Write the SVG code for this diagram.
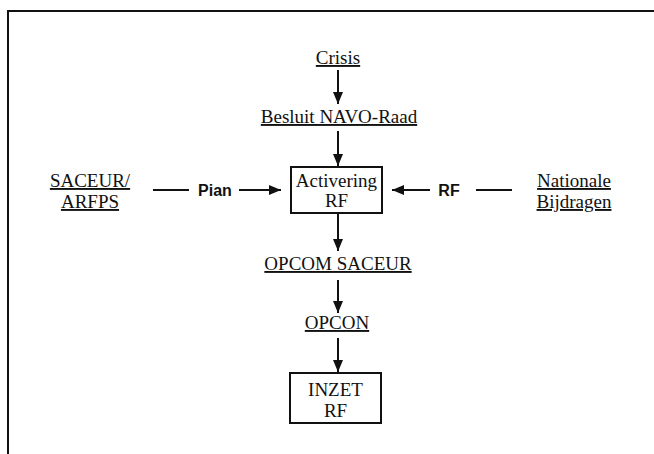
<svg xmlns="http://www.w3.org/2000/svg" width="654" height="454" viewBox="0 0 654 454">
<style>
.t{font-family:"Liberation Serif","Times New Roman",serif;font-size:19px;fill:#111;text-anchor:middle}
.u{text-decoration:underline}
.l{font-family:"Liberation Sans",Arial,sans-serif;font-size:16px;font-weight:bold;fill:#111;text-anchor:middle}
.c{stroke:#111;stroke-width:2;fill:none}
.b{fill:#fff;stroke:#111;stroke-width:2}
</style>
<defs>
<marker id="ah" viewBox="0 0 12 10" refX="12" refY="5" markerWidth="12" markerHeight="10" markerUnits="userSpaceOnUse" orient="auto">
<path d="M0,0 L12,5 L0,10 Z" fill="#111"/>
</marker>
</defs>
<g id="frame">
<line x1="7" y1="11" x2="654" y2="11" stroke="#111" stroke-width="2"/>
<line x1="8" y1="11" x2="8" y2="454" stroke="#111" stroke-width="2"/>
</g>
<g id="connectors">
<line class="c" x1="338" y1="70" x2="338" y2="104" marker-end="url(#ah)"/>
<line class="c" x1="338" y1="131" x2="338" y2="166" marker-end="url(#ah)"/>
<line class="c" x1="338" y1="214" x2="338" y2="251" marker-end="url(#ah)"/>
<line class="c" x1="338" y1="280" x2="338" y2="313" marker-end="url(#ah)"/>
<line class="c" x1="338" y1="338" x2="338" y2="372" marker-end="url(#ah)"/>
<line class="c" x1="153" y1="190" x2="189" y2="190"/>
<text class="l" x="215" y="196">Pian</text>
<line class="c" x1="239" y1="190" x2="281" y2="190" marker-end="url(#ah)"/>
<line class="c" x1="430" y1="190" x2="392" y2="190" marker-end="url(#ah)"/>
<text class="l" x="449" y="196">RF</text>
<line class="c" x1="476" y1="190" x2="512" y2="190"/>
</g>
<g id="crisis"><text class="t u" x="338" y="64">Crisis</text></g>
<g id="besluit"><text class="t u" x="339" y="123">Besluit NAVO-Raad</text></g>
<g id="activering">
<rect class="b" x="291" y="167" width="91" height="46"/>
<text class="t" x="336.5" y="187">Activering</text>
<text class="t" x="336.5" y="207">RF</text>
</g>
<g id="saceur">
<text class="t u" x="90" y="187">SACEUR/</text>
<text class="t u" x="90" y="208">ARFPS</text>
</g>
<g id="nationale">
<text class="t u" x="574" y="187">Nationale</text>
<text class="t u" x="574" y="208">Bijdragen</text>
</g>
<g id="opcom"><text class="t u" x="338" y="270">OPCOM SACEUR</text></g>
<g id="opcon"><text class="t u" x="337" y="329">OPCON</text></g>
<g id="inzet">
<rect class="b" x="290" y="373" width="91" height="50"/>
<text class="t" x="335.5" y="396">INZET</text>
<text class="t" x="335.5" y="417">RF</text>
</g>
</svg>
